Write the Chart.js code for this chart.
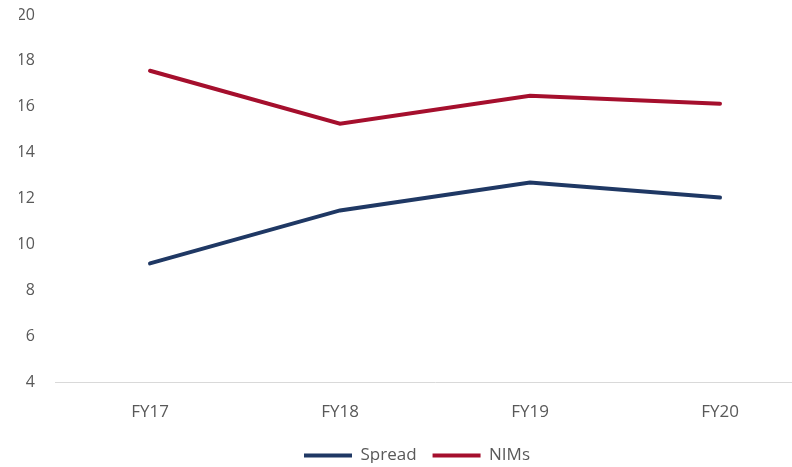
<!DOCTYPE html>
<html>
<head>
<meta charset="utf-8">
<script src="https://cdn.jsdelivr.net/npm/chart.js@4/dist/chart.umd.min.js"></script>
<style>
  html, body { margin: 0; padding: 0; background: #fff; overflow: hidden; }
  #wrap { width: 835px; height: 467px; }
</style>
</head>
<body>
<div id="wrap"><canvas id="spreadChart"></canvas></div>
<script>
// yearly spread vs net interest margins
const years = ["FY17", "FY18", "FY19", "FY20"];
const spread = [9.17, 11.48, 12.7, 12.04];
const nims = [17.57, 15.26, 16.48, 16.13];
const yTicks = [4, 6, 8, 10, 12, 14, 16, 18, 20];

const textColor = "#595959";
const family = "'Open Sans', 'Liberation Sans', sans-serif";
const font = { family: family, size: 16 };
const bigFont = { family: family, size: 17 };

let ctx = document.getElementById("spreadChart").getContext("2d");
let chart = new Chart(ctx, {
  type: "line",
  data: {
    labels: years,
    datasets: [
      { label: "Spread", data: spread, borderColor: "#1f3864", backgroundColor: "#1f3864",
        borderWidth: 4, borderCapStyle: "round", pointRadius: 0, tension: 0 },
      { label: "NIMs", data: nims, borderColor: "#a50f2d", backgroundColor: "#a50f2d",
        borderWidth: 4, borderCapStyle: "round", pointRadius: 0, tension: 0 }
    ]
  },
  options: {
    responsive: true,
    maintainAspectRatio: false,
    animation: false,
    layout: { padding: { top: 15, right: 20, left: 19, bottom: 4 } },
    plugins: {
      tooltip: { enabled: false },
      legend: {
        position: "bottom",
        maxHeight: 32,
        labels: {
          usePointStyle: true,
          pointStyle: "line",
          pointStyleWidth: 48,
          boxHeight: 4,
          padding: 16,
          color: textColor,
          font: bigFont
        }
      }
    },
    scales: {
      x: {
        offset: true,
        afterFit: s => { s.height = 49; },
        grid: { display: false, drawTicks: false },
        border: { color: "#d9d9d9", width: 1 },
        ticks: { color: textColor, font: bigFont, padding: 20 }
      },
      y: {
        min: 4,
        max: 20,
        afterBuildTicks: s => { s.ticks = yTicks.map(v => ({ value: v })); },
        afterFit: s => { s.width = 36; s.paddingTop = 0; s.paddingBottom = 0; },
        grid: { display: false, drawTicks: false },
        border: { display: false },
        ticks: { color: textColor, font: font, padding: 20 }
      }
    }
  }
});
</script>
</body>
</html>
